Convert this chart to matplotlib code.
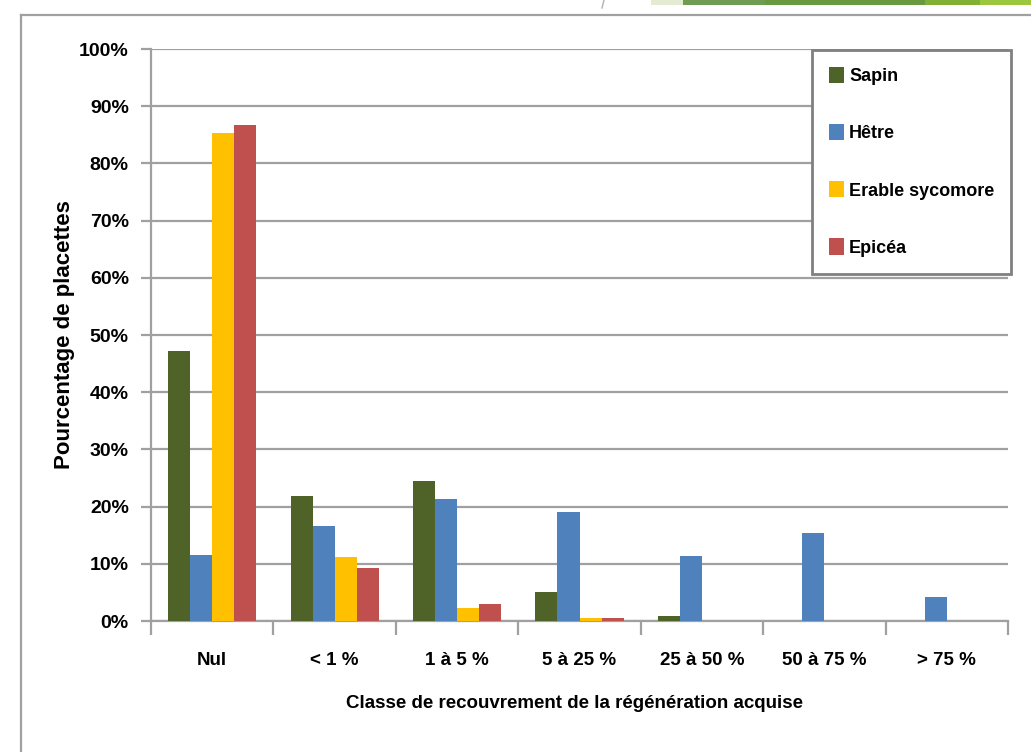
import numpy as np
import matplotlib
matplotlib.use('Agg')
import matplotlib.pyplot as plt
from matplotlib.patches import Rectangle
from matplotlib.lines import Line2D

plt.rcParams['font.family'] = ['Liberation Sans Narrow', 'Liberation Sans', 'DejaVu Sans']
plt.rcParams['font.weight'] = 'bold'
plt.rcParams['axes.labelweight'] = 'bold'

# Data
classes = ['Nul', '< 1 %', '1 à 5 %', '5 à 25 %', '25 à 50 %', '50 à 75 %', '> 75 %']
sapin = [47.2, 21.9, 24.4, 5.0, 0.8, 0, 0]
hetre = [11.6, 16.6, 21.4, 19.1, 11.4, 15.4, 4.2]
erable = [85.3, 11.2, 2.2, 0.6, 0, 0, 0]
epicea = [86.7, 9.3, 2.9, 0.6, 0, 0, 0]
series_names = ['Sapin', 'Hêtre', 'Erable sycomore', 'Epicéa']
y_ticks = [0, 10, 20, 30, 40, 50, 60, 70, 80, 90, 100]

colors = ['#4f6228', '#4f81bd', '#ffc000', '#c0504d']
grid_col = '#a0a0a0'
W, H = 1031, 752

fig = plt.figure(figsize=(W / 100, H / 100), dpi=100)
fig.patch.set_facecolor('white')

# axes placed by pixel box
x0, x1, y_top, y_bot = 151, 1008, 49, 621
ax = fig.add_axes([x0 / W, 1 - y_bot / H, (x1 - x0) / W, (y_bot - y_top) / H])

xs = np.arange(len(classes))
bw = 0.18
all_series = [sapin, hetre, erable, epicea]
for i, (vals, name, c) in enumerate(zip(all_series, series_names, colors)):
    ax.bar(xs + (i - 1.5) * bw, vals, width=bw, color=c, label=name, zorder=3)

ax.set_xlim(-0.5, len(classes) - 0.5)
ax.set_ylim(0, 100)
ax.set_yticks(y_ticks)
ax.set_yticklabels(['{}%'.format(v) for v in y_ticks])
ax.yaxis.grid(True, color=grid_col, lw=1.6, zorder=0)
ax.set_axisbelow(True)

# category boundaries as ticks, labels at centers
ax.set_xticks(np.arange(len(classes) + 1) - 0.5)
ax.set_xticklabels([])
ax.set_xticks(xs, minor=True)
ax.set_xticklabels(classes, minor=True)
ax.tick_params(axis='x', which='major', length=10, width=1.6, color=grid_col, direction='out')
ax.tick_params(axis='x', which='minor', length=0, pad=22, labelsize=13.5)
ax.tick_params(axis='y', length=7, width=1.6, color=grid_col, direction='out', pad=9, labelsize=14)

for s in ['top', 'right']:
    ax.spines[s].set_visible(False)
for s in ['left', 'bottom']:
    ax.spines[s].set_color(grid_col)
    ax.spines[s].set_linewidth(1.6)

ax.set_ylabel('Pourcentage de placettes', fontsize=16, va='center')
ax.yaxis.set_label_coords((65 - x0) / (x1 - x0), 0.5)
ax.set_xlabel('Classe de recouvrement de la régénération acquise', fontsize=13.5, va='center')
ax.xaxis.set_label_coords((574 - x0) / (x1 - x0), -(703 - y_bot) / (y_bot - y_top))

leg = ax.legend(loc='upper left', bbox_to_anchor=(812 / W, 1 - 50 / H),
                bbox_transform=fig.transFigure, borderaxespad=0, fancybox=False,
                fontsize=13, handlelength=0.8, handleheight=1.0, handletextpad=0.3,
                labelspacing=2.15, borderpad=0.95)
leg.get_frame().set_edgecolor('#808080')
leg.get_frame().set_linewidth(2)
leg.get_frame().set_alpha(1)

# outer frame of the slide picture
fig.add_artist(Line2D([21 / W, 21 / W], [0, 1 - 15 / H], transform=fig.transFigure,
                      color=grid_col, lw=1.6))
fig.add_artist(Line2D([21 / W, 1], [1 - 15 / H, 1 - 15 / H], transform=fig.transFigure,
                      color=grid_col, lw=1.6))

# decorative strip at top right
strip = [(651, 683, '#e3ecd3'), (683, 765, '#6f9b52'), (765, 925, '#6a993f'),
         (925, 980, '#80b036'), (980, 1031, '#9cc63e')]
for a, b, c in strip:
    fig.add_artist(Rectangle((a / W, 1 - 5 / H), (b - a) / W, 5 / H,
                             transform=fig.transFigure, color=c, lw=0))
fig.add_artist(Line2D([602 / W, 604 / W], [1 - 8 / H, 1], transform=fig.transFigure,
                      color='#b0b0b0', lw=1))

fig.savefig('out.png', dpi=100)
